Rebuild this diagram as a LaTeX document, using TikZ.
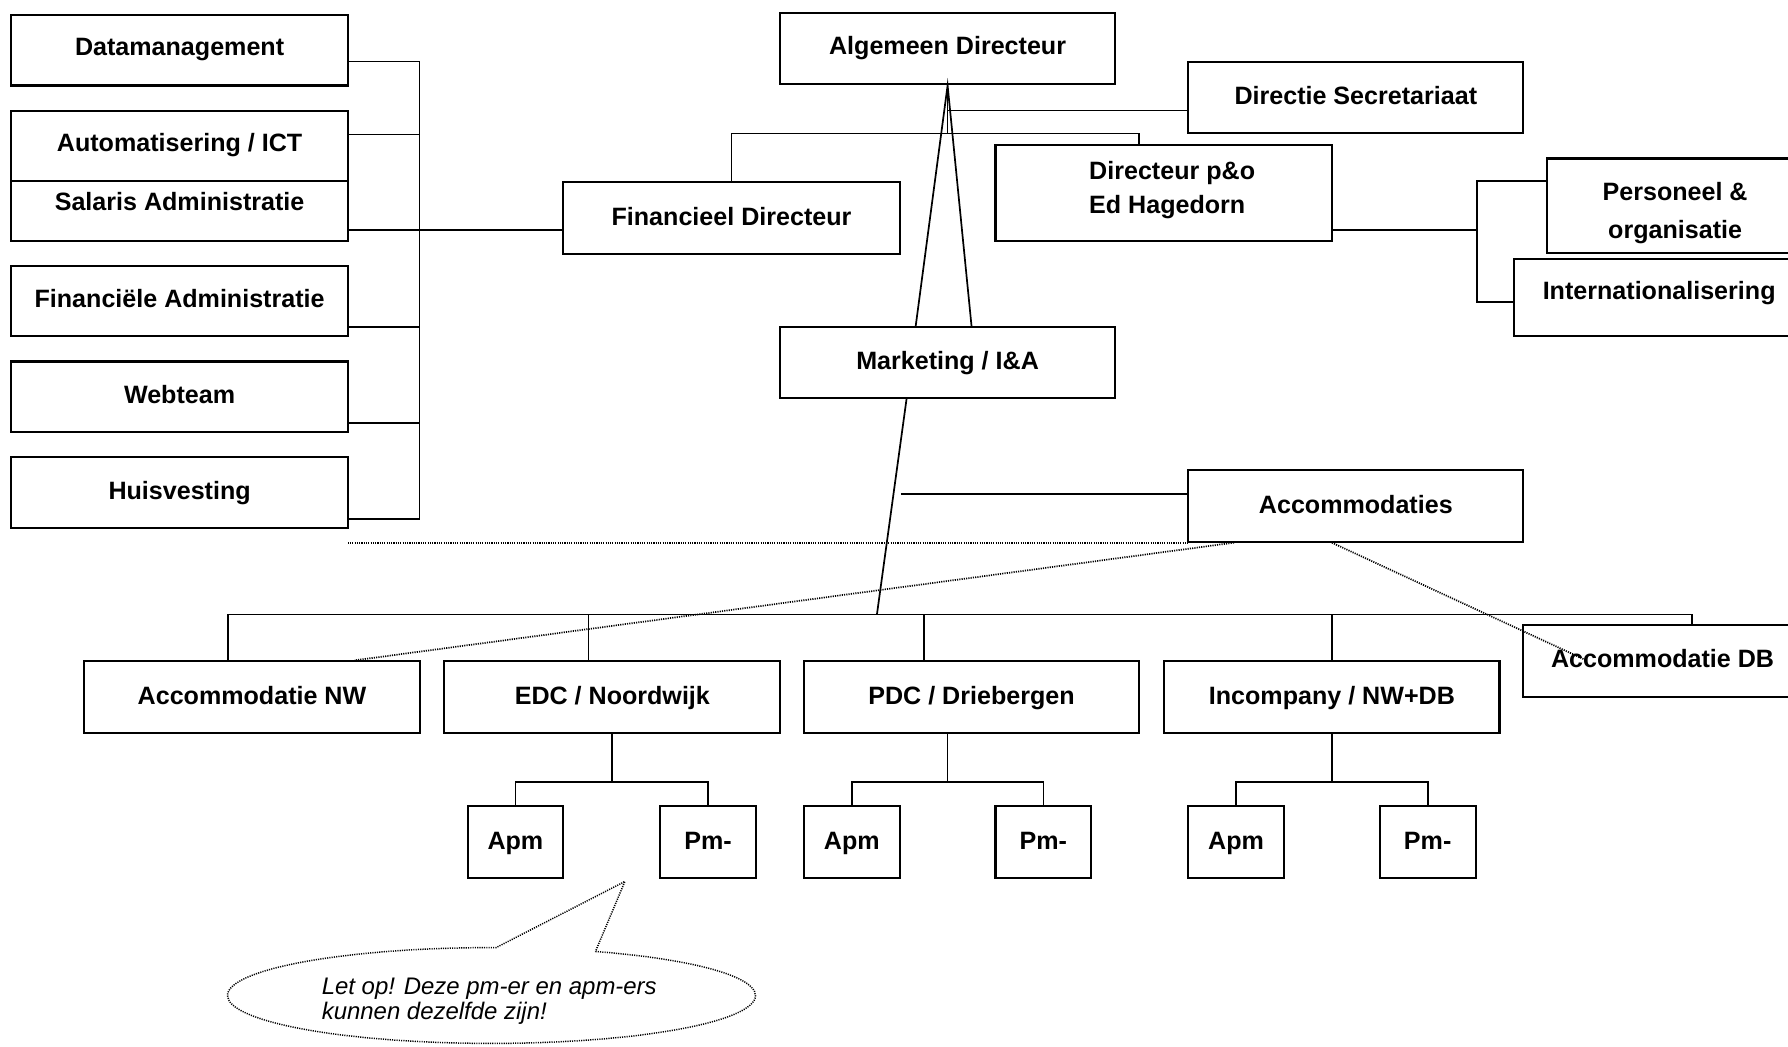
\documentclass[tikz,border=0pt]{standalone}
\usepackage{fontspec}
\setmainfont{Liberation Sans}
\usetikzlibrary{calc}
\newcommand\obx[5]{\node[obox, minimum width={#4-#2}, minimum height={#5-#3}] (#1) at ({(#2+#4)/2},{(#3+#5)/2}) {};}
\begin{document}
\begin{tikzpicture}[x=1pt,y=-1pt,
  obox/.style={draw, line width=1.8pt, inner sep=0pt, rectangle},
  lbl/.style={anchor=base, inner sep=0pt, font=\fontsize{22}{26}\selectfont\bfseries},
  ital/.style={anchor=base west, inner sep=0pt, font=\fontsize{21}{22}\selectfont\itshape},
  conn/.style={line width=1.5pt},
  dots/.style={line width=1.5pt, dash pattern=on 1pt off 1pt},
]
\clip (0,0) rectangle (1568,918);
\fill[white] (0,0) rectangle (1568,918);

% boxes
\obx{dm}{10}{13}{305}{75}
\obx{auto}{10}{97}{305}{159}
\obx{sal}{10}{159}{305}{211}
\obx{fa}{10}{233}{305}{295}
\obx{web}{10}{317}{305}{379}
\obx{huis}{10}{401}{305}{463}
\obx{fd}{494}{160}{789}{223}
\obx{ad}{684}{11}{978}{74}
\obx{ds}{1042}{54}{1336}{117}
\obx{dpo}{873}{127}{1168}{211}
\obx{po}{1357}{139}{1600}{222}
\obx{intl}{1328}{227}{1600}{295}
\obx{mk}{684}{287}{978}{349}
\obx{acc}{1042}{412}{1336}{475}
\obx{anw}{74}{580}{368}{643}
\obx{edc}{389}{580}{684}{643}
\obx{pdc}{705}{580}{999}{643}
\obx{inc}{1021}{580}{1315}{643}
\obx{adb}{1336}{548}{1600}{611}
\obx{ea}{410}{707}{494}{770}
\obx{ep}{579}{707}{663}{770}
\obx{pa}{705}{707}{789}{770}
\obx{pp}{873}{707}{957}{770}
\obx{ia}{1042}{707}{1126}{770}
\obx{ip}{1210}{707}{1294}{770}

% texts
\node[lbl] (dm-t) at (157.5,49) {Datamanagement};
\node[lbl] (auto-t) at (157.5,133) {Automatisering / ICT};
\node[lbl] (sal-t) at (157.5,185) {Salaris Administratie};
\node[lbl] (fa-t) at (157.5,270) {Financiële Administratie};
\node[lbl] (web-t) at (157.5,354) {Webteam};
\node[lbl] (huis-t) at (157.5,438) {Huisvesting};
\node[lbl] (fd-t) at (641.5,198) {Financieel Directeur};
\node[lbl] (ad-t) at (831,48) {Algemeen Directeur};
\node[lbl] (ds-t) at (1189,92) {Directie Secretariaat};
\node[lbl, anchor=base west] (dpo-t1) at (955,157) {Directeur p\&o};
\node[lbl, anchor=base west] (dpo-t2) at (955,187) {Ed Hagedorn};
\node[lbl] (po-t1) at (1469,176) {Personeel \&};
\node[lbl] (po-t2) at (1469,209) {organisatie};
\node[lbl] (intl-t) at (1455,263) {Internationalisering};
\node[lbl] (mk-t) at (831,324) {Marketing / I\&A};
\node[lbl] (acc-t) at (1189,450) {Accommodaties};
\node[lbl] (anw-t) at (221,618) {Accommodatie NW};
\node[lbl] (edc-t) at (537,618) {EDC / Noordwijk};
\node[lbl] (pdc-t) at (852,618) {PDC / Driebergen};
\node[lbl] (inc-t) at (1168,618) {Incompany / NW+DB};
\node[lbl] (adb-t) at (1458,585) {Accommodatie DB};
\node[lbl] (ea-t) at (452,745) {Apm};
\node[lbl] (ep-t) at (621,745) {Pm-};
\node[lbl] (pa-t) at (747,745) {Apm};
\node[lbl] (pp-t) at (915,745) {Pm-};
\node[lbl] (ia-t) at (1084,745) {Apm};
\node[lbl] (ip-t) at (1252,745) {Pm-};

% left bus
\coordinate (b1) at (368,54);
\coordinate (b2) at (368,118);
\coordinate (b3) at (368,202);
\coordinate (b4) at (368,287);
\coordinate (b5) at (368,371);
\coordinate (b6) at (368,455);
\draw[conn] (dm.east |- b1) -- (b1) -- (b6) -- (huis.east |- b6);
\draw[conn] (auto.east |- b2) -- (b2);
\draw[conn] (sal.east |- b3) -- (fd.west |- b3);
\draw[conn] (fa.east |- b4) -- (b4);
\draw[conn] (web.east |- b5) -- (b5);

% top
\coordinate (t1) at (831,97);
\coordinate (t2) at (831,117);
\coordinate (t3) at (999,117);
\draw[conn] (ad.south) -- (t2);
\draw[conn] (t1) -- (ds.west |- t1);
\draw[conn] (fd.north) -- (fd.north |- t2) -- (t3) -- (t3 |- dpo.north);
\draw[conn] ($(mk.north)+(-28,0)$) -- (ad.south) -- ($(mk.north)+(21,0)$);

% p&o
\coordinate (r1) at (1295,202);
\coordinate (r2) at (1295,159);
\coordinate (r3) at (1295,265);
\draw[conn] (dpo.east |- r1) -- (r1);
\draw[conn] (po.west |- r2) -- (r2) -- (r3) -- (intl.west |- r3);

% marketing and bottom bus
\coordinate (bL) at (200,539);
\coordinate (bR) at (1484,539);
\coordinate (bb) at (769,539);
\coordinate (v1) at (516,539);
\coordinate (v2) at (810,539);
\coordinate (v3) at (1168,539);
\draw[conn] ($(mk.south)+(-36,0)$) -- (bb);
\draw[conn] (anw.north -| bL) -- (bL) -- (bR) -- (bR |- adb.north);
\draw[conn] (v1) -- (v1 |- edc.north);
\draw[conn] (v2) -- (v2 |- pdc.north);
\draw[conn] (v3) -- (v3 |- inc.north);
\coordinate (am) at (790,433);
\draw[conn] (am) -- (acc.west |- am);

% dotted
\coordinate (dl) at (305,476);
\draw[dots] (dl) -- (acc.south west |- dl);
\draw[dots] ($(acc.south west)+(41,0)$) -- ($(anw.north east)+(-58,0)$);
\draw[dots] ($(acc.south)+(-21,0)$) -- ($(adb.north west)+(56,32)$);

% subtrees
\coordinate (e0) at (537,686);
\coordinate (p0) at (831,686);
\coordinate (i0) at (1168,686);
\draw[conn] (edc.south -| e0) -- (e0);
\draw[conn] (ea.north) -- (ea.north |- e0) -- (ep.north |- e0) -- (ep.north);
\draw[conn] (pdc.south -| p0) -- (p0);
\draw[conn] (pa.north) -- (pa.north |- p0) -- (pp.north |- p0) -- (pp.north);
\draw[conn] (inc.south -| i0) -- (i0);
\draw[conn] (ia.north) -- (ia.north |- i0) -- (ip.north |- i0) -- (ip.north);

% callout
\draw[dots, line width=1.3pt] (522.2,834.4) arc[start angle=-66.8, end angle=271, x radius=231.5, y radius=42] -- (548,773) -- cycle;
\node[ital] (note1) at (282,872) {Let op! Deze pm-er en apm-ers};
\node[ital] (note2) at (282,894) {kunnen dezelfde zijn!};
\end{tikzpicture}
\end{document}
